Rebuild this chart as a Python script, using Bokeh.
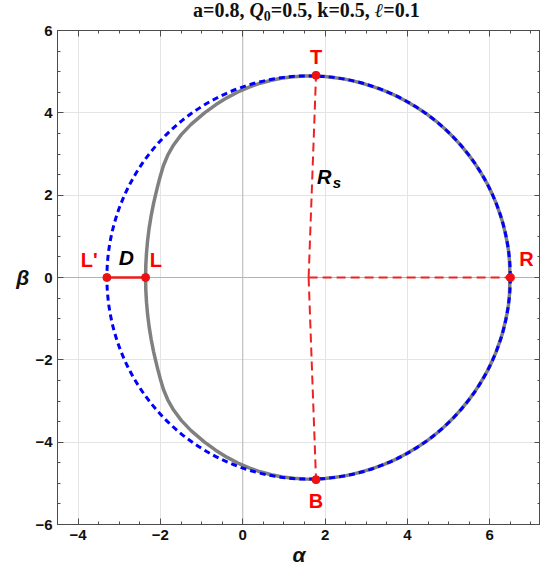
from bokeh.plotting import figure
from bokeh.models import Range1d, LinearAxis, FixedTicker, Span, Div
from bokeh.layouts import column
from bokeh.embed import file_html
from bokeh.resources import INLINE
from bokeh.core.properties import value

# ---------------- data ----------------
# upper half of the shadow boundary (gray curve), from L over T to R
shadow_alpha_upper = [-2.360, -2.355, -2.338, -2.311, -2.274, -2.225, -2.166, -2.120, -2.059, -2.000,
                      -1.926, -1.822, -1.680, -1.493, -1.256, -0.928, -0.659, -0.388, -0.117, 0.154,
                      0.425, 0.696, 0.967, 1.238, 1.509, 1.780, 2.000, 2.200, 2.450, 2.700,
                      2.950, 3.200, 3.450, 3.700, 3.950, 4.200, 4.450, 4.700, 4.900, 5.100,
                      5.300, 5.500, 5.650, 5.800, 5.930, 6.050, 6.150, 6.250, 6.320, 6.380,
                      6.420, 6.455, 6.480, 6.490]
shadow_beta_upper = [0.000, 0.300, 0.600, 0.900, 1.200, 1.500, 1.800, 2.000, 2.250, 2.470,
                     2.720, 2.970, 3.220, 3.470, 3.720, 4.000, 4.195, 4.364, 4.507, 4.625,
                     4.720, 4.793, 4.845, 4.878, 4.896, 4.900, 4.885, 4.860, 4.825, 4.770,
                     4.705, 4.625, 4.535, 4.425, 4.295, 4.150, 3.985, 3.795, 3.620, 3.425,
                     3.210, 2.960, 2.755, 2.520, 2.295, 2.050, 1.820, 1.540, 1.315, 1.060,
                     0.870, 0.660, 0.400, 0.000]

# reference circle (blue dashed)
circle_alpha_c = 1.6
circle_beta_c = 0.0
circle_radius = 4.9

# characteristic points
point_names = ["T", "B", "L", "L'", "R"]
point_alpha = [1.78, 1.78, -2.36, -3.30, 6.50]
point_beta = [4.91, -4.91, 0.00, 0.00, 0.00]

x_major = [-4, -2, 0, 2, 4, 6]
y_major = [-6, -4, -2, 0, 2, 4, 6]
x_tick_labels = ["\u22124", "\u22122", "0", "2", "4", "6"]
y_tick_labels = ["\u22126", "\u22124", "\u22122", "0", "2", "4", "6"]

# ---------------- derived ----------------
shadow_alpha = shadow_alpha_upper + shadow_alpha_upper[::-1][1:]
shadow_beta = shadow_beta_upper + [-b for b in shadow_beta_upper[::-1][1:]]
pt = dict(zip(point_names, zip(point_alpha, point_beta)))

x_minor = [k / 2 for k in range(-9, 16) if k % 4 != 0]
y_minor = [k / 2 for k in range(-12, 13) if k % 4 != 0]

TITLE_H = 20
FIG_W, FIG_H = 540, 571 - TITLE_H
FRAME_L, FRAME_T = 57, 30 - TITLE_H
FRAME_H = 494
FRAME_W = FIG_W - FRAME_L
PX_PER_UNIT = FRAME_H / 12.0
X_MIN = -4.5
X_MAX = X_MIN + FRAME_W / PX_PER_UNIT

p = figure(width=FIG_W, height=FIG_H, output_backend="svg", toolbar_location=None,
           x_range=Range1d(X_MIN, X_MAX), y_range=Range1d(-6, 6),
           min_border_left=FRAME_L, min_border_right=0,
           min_border_top=FRAME_T, min_border_bottom=FIG_H - FRAME_T - FRAME_H,
           x_axis_label="\u03b1", y_axis_label="\u03b2")
p.background_fill_color = "white"
p.border_fill_color = "white"
p.outline_line_color = "#4d4d4d"
p.outline_line_width = 1

AXC = "#4d4d4d"


def style_axis(ax, ticks, minor, labels, show_labels):
    ax.ticker = FixedTicker(ticks=ticks, minor_ticks=minor)
    ax.axis_line_color = AXC
    ax.major_tick_line_color = AXC
    ax.minor_tick_line_color = AXC
    ax.major_tick_in = 6
    ax.major_tick_out = 0
    ax.minor_tick_in = 3
    ax.minor_tick_out = 0
    if show_labels:
        ax.major_label_overrides = {t: s for t, s in zip(ticks, labels)}
        ax.major_label_text_font = "Liberation Sans"
        ax.major_label_text_font_style = "bold"
        ax.major_label_text_font_size = "15px"
        ax.major_label_text_color = "#111111"
    else:
        ax.major_label_overrides = {t: "" for t in ticks}
        ax.major_label_text_font_size = "1px"
        ax.major_label_standoff = 0


style_axis(p.xaxis[0], x_major, x_minor, x_tick_labels, True)
style_axis(p.yaxis[0], y_major, y_minor, y_tick_labels, True)
p.xaxis[0].major_label_standoff = 5
p.yaxis[0].major_label_standoff = 5

for ax in (p.xaxis[0], p.yaxis[0]):
    ax.axis_label_text_font = "Liberation Sans"
    ax.axis_label_text_font_style = "bold italic"
    ax.axis_label_text_font_size = "21px"
    ax.axis_label_text_color = "#111111"
p.xaxis[0].axis_label_standoff = 0
p.yaxis[0].axis_label_standoff = 3
try:
    p.yaxis[0].axis_label_orientation = "horizontal"
except Exception:
    pass

top_axis = LinearAxis()
style_axis(top_axis, x_major, x_minor, x_tick_labels, False)
p.add_layout(top_axis, "above")
right_axis = LinearAxis()
style_axis(right_axis, y_major, y_minor, y_tick_labels, False)
p.add_layout(right_axis, "right")

# grid
p.xgrid.ticker = FixedTicker(ticks=[t for t in x_major if t != 0])
p.ygrid.ticker = FixedTicker(ticks=[t for t in y_major if t != 0])
p.xgrid.grid_line_color = "#e4e4e4"
p.ygrid.grid_line_color = "#e4e4e4"
p.add_layout(Span(location=0, dimension="height", line_color="#b4b4b4", line_width=1, level="underlay"))
p.add_layout(Span(location=0, dimension="width", line_color="#b4b4b4", line_width=1, level="underlay"))

# shadow curve
p.line(shadow_alpha, shadow_beta, line_color="#808080", line_width=3.5, line_join="round")

# blue dashed circle
p.circle(x=[circle_alpha_c], y=[circle_beta_c], radius=circle_radius,
         fill_color=None, line_color="#0000ff", line_width=3, line_dash="6 4")

# red dashed radii
p.segment(x0=[circle_alpha_c] * 3, y0=[circle_beta_c] * 3,
          x1=[pt["T"][0], pt["B"][0], pt["R"][0]],
          y1=[pt["T"][1], pt["B"][1], pt["R"][1]],
          line_color="#ee2222", line_width=2, line_dash="9 5")

# D segment
p.line([pt["L'"][0], pt["L"][0]], [pt["L'"][1], pt["L"][1]], line_color="#e81c1c", line_width=2.5)

# points
p.scatter(point_alpha, point_beta, size=8, color="#ee1111")

# point labels
lab_x = [1.78, 1.78, -2.11, -3.73, 6.89]
lab_y = [5.36, -5.42, 0.43, 0.43, 0.45]
p.text(x=lab_x, y=lab_y, text=point_names, text_color="#ff0000",
       text_font=value("Liberation Sans"), text_font_style="bold", text_font_size="20px",
       text_align="center", text_baseline="middle")

p.text(x=[-2.83], y=[0.49], text=["D"], text_color="black",
       text_font=value("Liberation Sans"), text_font_style="bold italic", text_font_size="21px",
       text_align="center", text_baseline="middle")
p.text(x=[1.98], y=[2.43], text=["R"], text_color="black",
       text_font=value("Liberation Sans"), text_font_style="bold italic", text_font_size="20px",
       text_align="center", text_baseline="middle")
p.text(x=[2.29], y=[2.30], text=["s"], text_color="black",
       text_font=value("Liberation Sans"), text_font_style="bold italic", text_font_size="15px",
       text_align="center", text_baseline="middle")

# title with italic symbols
title_html = ('a=0.8, <i>Q</i><sub style="font-size:70%;vertical-align:-0.25em;line-height:0;">0</sub>=0.5, '
              'k=0.5, <i>\u2113</i>=0.1')
title_div = Div(text=title_html, width=FIG_W, height=TITLE_H, margin=0,
                styles={"font-family": "Liberation Serif", "font-weight": "bold",
                        "font-size": "20px", "line-height": "%dpx" % TITLE_H,
                        "text-align": "left", "text-indent": "193px",
                        "color": "#111111", "white-space": "nowrap"})

layout = column(title_div, p, spacing=0)
open("out.html", "w").write(file_html(layout, INLINE))
